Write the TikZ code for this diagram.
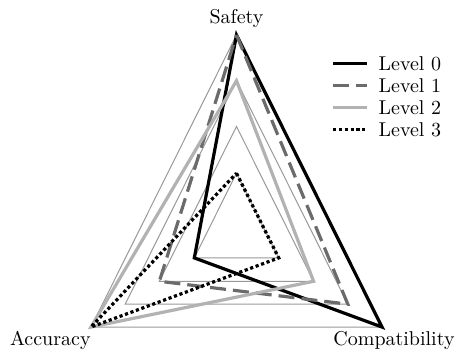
\documentclass[tikz,border=0pt]{standalone}
\usepackage{amsmath}
\usetikzlibrary{positioning}

\begin{document}
\begin{tikzpicture}[x=84pt,y=97.35pt,
   grid/.style={draw=black!40,line width=0.5pt},
   lvlzero/.style={draw=black,line width=1.6pt},
   lvlone/.style={draw=black!58,line width=1.6pt,dash pattern=on 8pt off 3.5pt},
   lvltwo/.style={draw=black!30,line width=1.6pt},
   lvlthree/.style={draw=black,line width=1.6pt,dash pattern=on 1.6pt off 1.3pt}]
   \useasboundingbox (-118.25pt,-60.65pt) rectangle (112.25pt,114.85pt);
   \foreach \lv in {0.29,0.53,0.765,1}
    \draw[grid] (90:\lv) -- (210:\lv) -- (330:\lv) -- cycle;
   \begin{scope}[every node/.style={inner sep=0pt}]
    \node (safety) at (90:1) [anchor=south,inner sep=3.33pt] {Safety};
    \node (accuracy) at (210:1) [anchor=north east,yshift=-2pt] {Accuracy};
    \node (compat) at (330:1) [anchor=north,xshift=6pt,yshift=-2pt] {Compatibility};
   \end{scope}
   \coordinate (s0) at (90:1);
   \coordinate (a0) at (210:0.29);
   \coordinate (c0) at (330:1);
   \coordinate (s1) at (90:1);
   \coordinate (a1) at (210:0.53);
   \coordinate (c1) at (330:0.765);
   \coordinate (s2) at (90:0.765);
   \coordinate (a2) at (210:1);
   \coordinate (c2) at (330:0.53);
   \coordinate (s3) at (90:0.29);
   \coordinate (a3) at (210:1);
   \coordinate (c3) at (330:0.29);
   \draw[lvlzero] (s0) -- (c0) -- (a0) -- cycle;
   \draw[lvlone] (s1) -- (c1) -- (a1) -- cycle;
   \draw[lvltwo] (s2) -- (c2) -- (a2) -- cycle;
   \draw[lvlthree] (s3) -- (c3) -- (a3) -- cycle;
   \begin{scope}[every node/.style={inner sep=0pt}]
    \coordinate (k0a) at (48.4pt,83.2pt);
    \coordinate (k0b) at (65.1pt,83.2pt);
    \coordinate (k1a) at (48.4pt,72.1pt);
    \coordinate (k1b) at (65.1pt,72.1pt);
    \coordinate (k2a) at (48.4pt,61pt);
    \coordinate (k2b) at (65.1pt,61pt);
    \coordinate (k3a) at (48.4pt,49.9pt);
    \coordinate (k3b) at (65.1pt,49.9pt);
    \node (t0) [right=5.8pt of k0b] {Level 0};
    \node (t1) [right=5.8pt of k1b] {Level 1};
    \node (t2) [right=5.8pt of k2b] {Level 2};
    \node (t3) [right=5.8pt of k3b] {Level 3};
   \end{scope}
   \draw[lvlzero] (k0a) -- (k0b);
   \draw[lvlone] (k1a) -- (k1b);
   \draw[lvltwo] (k2a) -- (k2b);
   \draw[lvlthree] (k3a) -- (k3b);
\end{tikzpicture}
\end{document}
